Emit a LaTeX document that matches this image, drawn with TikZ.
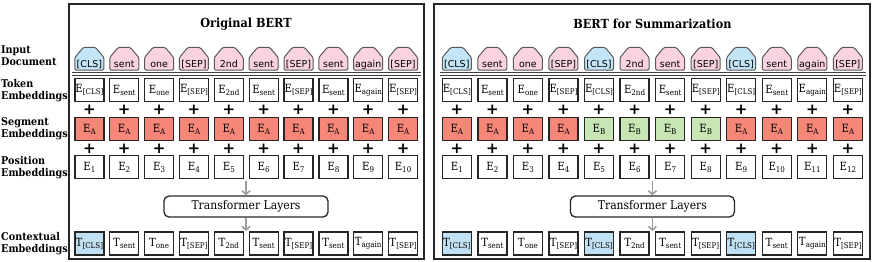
\documentclass[tikz,border=0pt]{standalone}
\usepackage{fontspec}
\setmainfont{DejaVu Serif Condensed}
\newfontfamily\toksf{DejaVu Sans}
\usetikzlibrary{arrows.meta}
\definecolor{clsblue}{RGB}{196,228,247}
\definecolor{tokpink}{RGB}{249,211,223}
\definecolor{segred}{RGB}{245,134,120}
\definecolor{seggreen}{RGB}{199,230,180}
\definecolor{ctxblue}{RGB}{192,224,244}
\newcommand\Esub[2]{#1\raisebox{-2pt}{\fontsize{7.9}{8}\selectfont #2}}
\begin{document}
\begin{tikzpicture}[x=1pt,y=-1pt,
  frame/.style={draw=black!85, line width=2pt},
  ebox/.style={draw=black!85, line width=1.3pt, minimum width=29pt, minimum height=23pt, inner sep=0pt, font=\fontsize{11.3}{12}\selectfont},
  tokshape/.style={draw=black!65, line width=1pt, rounded corners=1.2pt},
  toktext/.style={font=\toksf\fontsize{9.5}{10}\selectfont, inner sep=0pt, anchor=base},
  plusnode/.style={font=\toksf\bfseries\fontsize{15}{15}\selectfont, inner sep=0pt},
  arr/.style={draw=black!38, line width=1.6pt, -{Straight Barb[length=3.5pt,width=8pt]}},
  trans/.style={draw=black!85, line width=1.3pt, rounded corners=5pt, minimum width=164pt, minimum height=21pt, inner sep=0pt, font=\fontsize{12}{13}\selectfont},
  sepline/.style={draw=black!75, line width=0.9pt},
  rowlabel/.style={anchor=west, align=left, inner sep=0pt, font=\bfseries\fontsize{10.7}{12}\selectfont},
  titlestyle/.style={inner sep=0pt, font=\bfseries\fontsize{12.5}{14}\selectfont}]
\useasboundingbox (0,0) rectangle (872,262);
% frames
\draw[frame] (68.5,4) rectangle (424,258.5);
\draw[frame] (434,4) rectangle (869.5,258.5);
% titles
\node[titlestyle] (ltitle) at (246,24) {Original BERT};
\node[titlestyle] (rtitle) at (652.4,24) {BERT for Summarization};
% row labels
\node[rowlabel] (lab1) at (1,56) {Input\\Document};
\node[rowlabel] (lab2) at (1,91) {Token\\Embeddings};
\node[rowlabel] (lab3) at (1,129) {Segment\\Embeddings};
\node[rowlabel] (lab4) at (1,167.5) {Position\\Embeddings};
\node[rowlabel] (lab5) at (1,244) {Contextual\\Embeddings};
% separator lines
\draw[sepline] (72,72.7) -- (420.5,72.7);
\draw[sepline] (72,75.2) -- (420.5,75.2);
\draw[sepline] (440,72.7) -- (866,72.7);
\draw[sepline] (440,75.2) -- (866,75.2);
% left columns
\foreach \i/\tok/\col/\seg/\ctx in {1/[CLS]/clsblue/segred/ctxblue, 2/sent/tokpink/segred/white, 3/one/tokpink/segred/white, 4/[SEP]/tokpink/segred/white, 5/2nd/tokpink/segred/white, 6/sent/tokpink/segred/white, 7/[SEP]/tokpink/segred/white, 8/sent/tokpink/segred/white, 9/again/tokpink/segred/white, 10/[SEP]/tokpink/segred/white}{
  \pgfmathsetmacro\xx{89.4+(\i-1)*34.85}
  \path[tokshape, fill=\col] (\xx-14.5,70) -- (\xx+14.5,70) -- (\xx+14.5,57.5) -- (\xx+6.2,47.5) -- (\xx-6.2,47.5) -- (\xx-14.5,57.5) -- cycle;
  \node[toktext] (li\i) at (\xx,67) {\tok};
  \node[ebox] (le\i) at (\xx,90) {\Esub{E}{\tok}};
  \node[plusnode] (lpa\i) at (\xx,110) {+};
  \node[ebox, fill=\seg] (ls\i) at (\xx,129) {\Esub{E}{A}};
  \node[plusnode] (lpb\i) at (\xx,149) {+};
  \node[ebox] (lp\i) at (\xx,167) {\Esub{E}{\i}};
  \node[ebox, fill=\ctx] (lc\i) at (\xx,243.5) {\Esub{T}{\tok}};
}
% right columns
\foreach \i/\tok/\col/\seg/\sl/\ctx in {1/[CLS]/clsblue/segred/A/ctxblue, 2/sent/tokpink/segred/A/white, 3/one/tokpink/segred/A/white, 4/[SEP]/tokpink/segred/A/white, 5/[CLS]/clsblue/seggreen/B/ctxblue, 6/2nd/tokpink/seggreen/B/white, 7/sent/tokpink/seggreen/B/white, 8/[SEP]/tokpink/seggreen/B/white, 9/[CLS]/clsblue/segred/A/ctxblue, 10/sent/tokpink/segred/A/white, 11/again/tokpink/segred/A/white, 12/[SEP]/tokpink/segred/A/white}{
  \pgfmathsetmacro\xx{456.8+(\i-1)*35.55}
  \path[tokshape, fill=\col] (\xx-14.5,70) -- (\xx+14.5,70) -- (\xx+14.5,57.5) -- (\xx+6.2,47.5) -- (\xx-6.2,47.5) -- (\xx-14.5,57.5) -- cycle;
  \node[toktext] (ri\i) at (\xx,67) {\tok};
  \node[ebox] (re\i) at (\xx,90) {\Esub{E}{\tok}};
  \node[plusnode] (rpa\i) at (\xx,110) {+};
  \node[ebox, fill=\seg] (rs\i) at (\xx,129) {\Esub{E}{\sl}};
  \node[plusnode] (rpb\i) at (\xx,149) {+};
  \node[ebox] (rp\i) at (\xx,167) {\Esub{E}{\i}};
  \node[ebox, fill=\ctx] (rc\i) at (\xx,243.5) {\Esub{T}{\tok}};
}
% transformers
\node[trans] (lt) at (246,206.5) {Transformer Layers};
\node[trans] (rt) at (652.4,206.5) {Transformer Layers};
\coordinate (la) at (246,180.5);
\coordinate (lb) at (246,231);
\coordinate (ra) at (652.4,180.5);
\coordinate (rb) at (652.4,231);
\draw[arr] (la) -- (lt.north);
\draw[arr] (lt.south) -- (lb);
\draw[arr] (ra) -- (rt.north);
\draw[arr] (rt.south) -- (rb);
\end{tikzpicture}
\end{document}
